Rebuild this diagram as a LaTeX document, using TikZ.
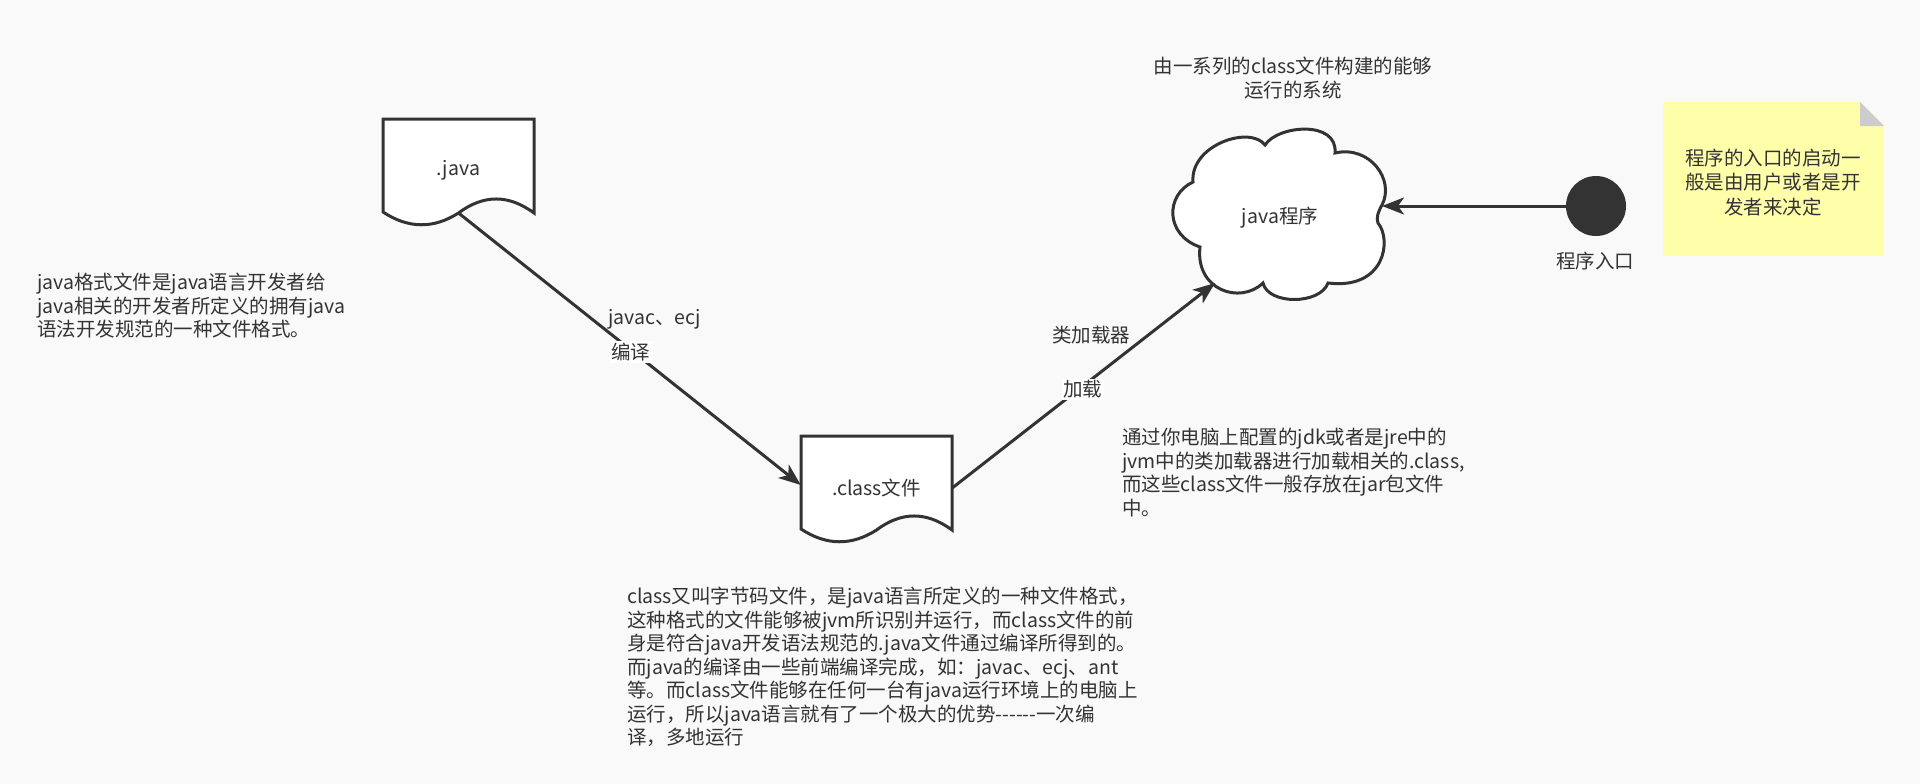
\documentclass[tikz,border=0pt]{standalone}
\usepackage{fontspec}
\setmainfont{Noto Sans CJK SC}
\usetikzlibrary{arrows.meta,calc}
\definecolor{ink}{HTML}{333333}
\definecolor{bgc}{HTML}{F9F9F9}
\definecolor{notefill}{HTML}{FFFFAA}
\definecolor{foldgray}{HTML}{CCCCCC}
\newcommand{\docoutline}[2]{\draw[docline, shift={(#1,#2)}] (0,0) -- (151,0) -- (151,94) .. controls (125.7,75.3) and (100.5,75.3) .. (75.5,94) .. controls (50.5,110) and (25.3,109.7) .. (0,93) -- cycle;}
\begin{document}
\begin{tikzpicture}[x=1pt,y=-1pt,
  txt/.style={text=ink, font=\fontsize{19.5}{23.5}\selectfont, inner sep=0pt},
  blk/.style={txt, align=left, anchor=north west},
  lblbg/.style={txt, fill=white, inner sep=1.5pt},
  docbox/.style={txt, minimum width=151pt, minimum height=102pt},
  docline/.style={draw=ink, line width=3pt, fill=white},
  conn/.style={draw=ink, line width=3pt, -{Stealth[length=22pt,width=17pt,inset=6pt]}}]
\fill[bgc] (0,0) rectangle (1920,784);
\useasboundingbox (0,0) rectangle (1920,784);

% document shapes
\docoutline{383}{119}
\docoutline{801}{436}
\node[docbox] (java) at (458.5,170) {.java};
\node[docbox] (class) at (876.5,488) {.class文件};

% cloud
\draw[docline] (1193,182) .. controls (1190,145) and (1250,125) .. (1265,145)
  .. controls (1278,125) and (1338,120) .. (1335,153)
  .. controls (1370,145) and (1395,180) .. (1382,205)
  .. controls (1378,212) and (1376,218) .. (1378,223)
  .. controls (1392,240) and (1385,290) .. (1328,283)
  .. controls (1320,305) and (1268,305) .. (1263,283)
  .. controls (1240,305) and (1195,290) .. (1200,247)
  .. controls (1165,235) and (1165,195) .. (1193,182) -- cycle;
\node[txt] (cloud) at (1280,218) {java程序};
\coordinate (cloudIn) at (1215,283);
\coordinate (cloudR) at (1382,206);

% start point
\node[circle, fill=ink, minimum size=60pt, inner sep=0pt] (start) at (1596,206) {};
\node[txt] (startLbl) at (1595,261) {程序入口};

% note
\fill[notefill] (1663,102) -- (1860,102) -- (1884,126) -- (1884,256) -- (1663,256) -- cycle;
\fill[foldgray] (1860,102) -- (1860,126) -- (1884,126) -- cycle;
\node[txt, align=center, font=\fontsize{19.5}{24.5}\selectfont] (note) at (1773,182.5) {程序的入口的启动一\\般是由用户或者是开\\发者来决定};

% connectors
\coordinate (javaOut) at ($(java.center)+(0,43)$);
\coordinate (classIn) at ($(class.west)+(0,-3)$);
\draw[conn] (javaOut) -- (classIn);
\draw[conn] (class.east) -- (cloudIn);
\draw[conn] (start.west) -- (cloudR);

% labels
\node[txt, anchor=west] (l1) at (608,319) {javac、ecj};
\node[lblbg, anchor=west] (l2) at (609.5,352) {编译};
\node[txt, anchor=west] (l3) at (1052,335) {类加载器};
\node[lblbg, anchor=west] (l4) at (1061.5,389) {加载};

% text blocks
\node[txt, align=center, anchor=north] (top) at (1293,57) {由一系列的class文件构建的能够\\运行的系统};
\node[blk] (left) at (37,273) {java格式文件是java语言开发者给\\java相关的开发者所定义的拥有java\\语法开发规范的一种文件格式。};
\node[blk] (right) at (1122,428) {通过你电脑上配置的jdk或者是jre中的\\jvm中的类加载器进行加载相关的.class,\\而这些class文件一般存放在jar包文件\\中。};
\node[blk] (bottom) at (627,587) {class又叫字节码文件，是java语言所定义的一种文件格式，\\这种格式的文件能够被jvm所识别并运行，而class文件的前\\身是符合java开发语法规范的.java文件通过编译所得到的。\\而java的编译由一些前端编译完成，如：javac、ecj、ant\\等。而class文件能够在任何一台有java运行环境上的电脑上\\运行，所以java语言就有了一个极大的优势-{}-{}-{}-{}-{}-一次编\\译，多地运行};
\end{tikzpicture}
\end{document}
